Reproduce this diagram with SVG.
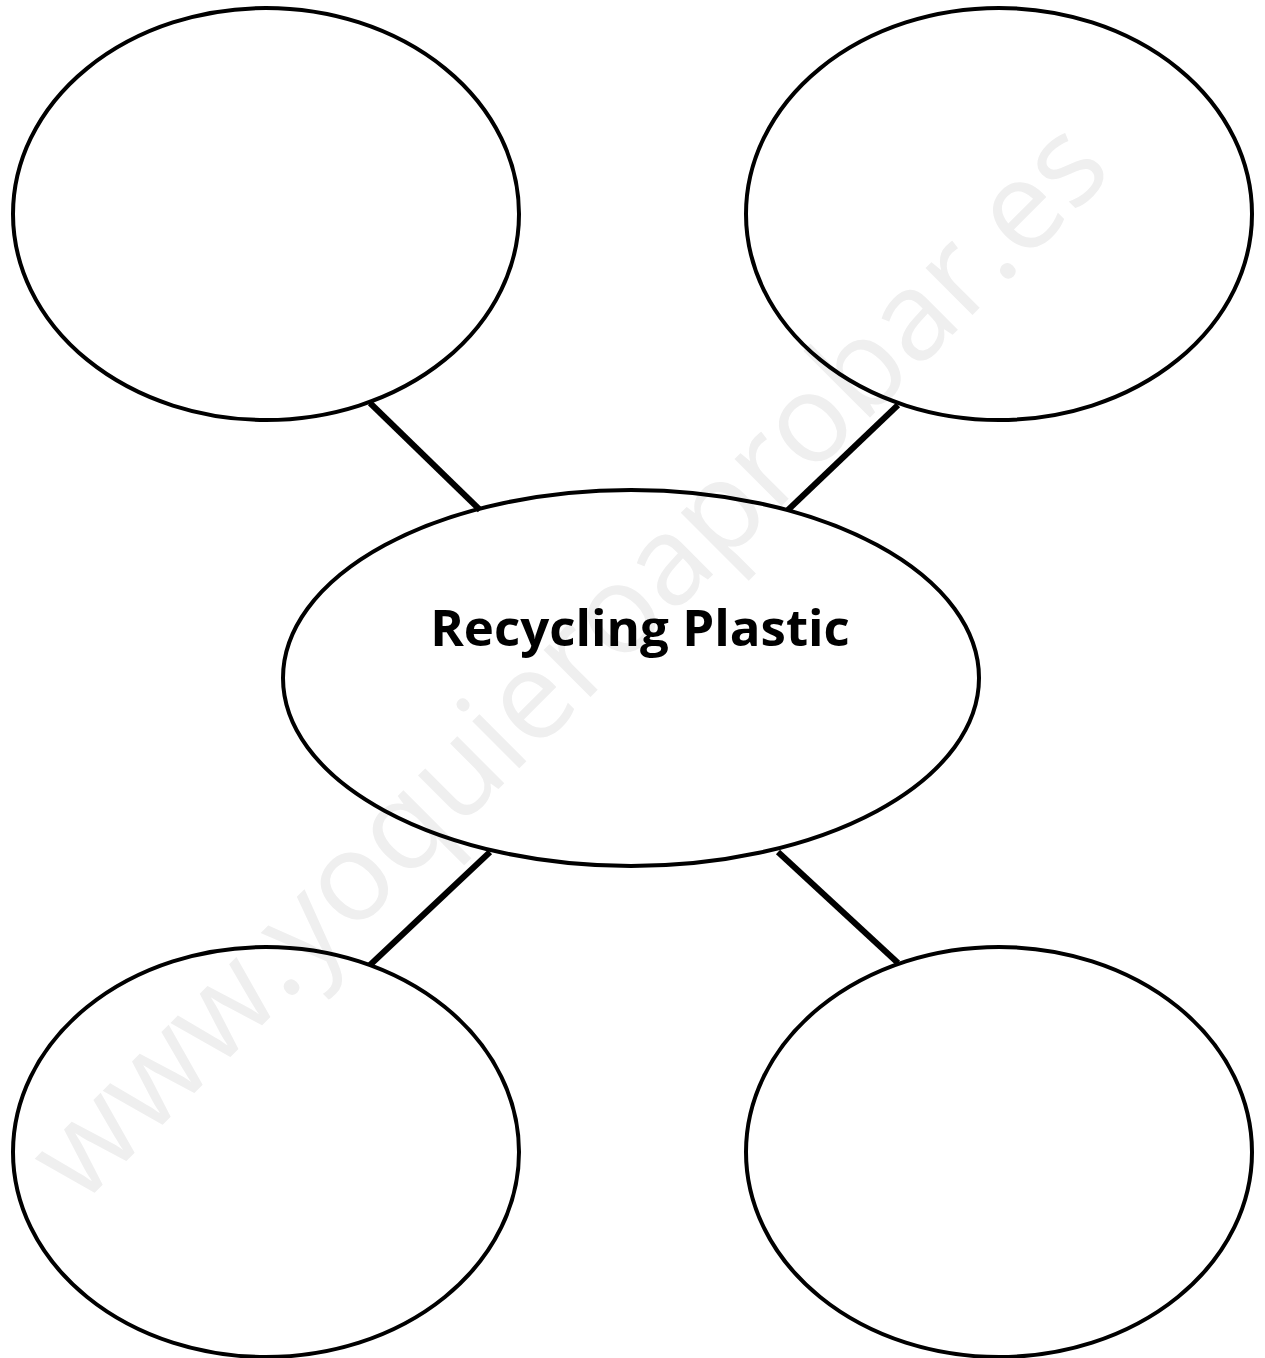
<svg xmlns="http://www.w3.org/2000/svg" width="1265" height="1358" viewBox="0 0 1265 1358">
<style>
.node{fill:none;stroke:#000;stroke-width:4}
.conn{stroke:#000;stroke-width:6;fill:none}
.label{font-family:"Open Sans","Noto Sans",sans-serif;font-weight:bold;font-size:51px;fill:#000}
.wm{font-family:"Open Sans","Noto Sans",sans-serif;font-size:124px;fill:#efefef}
</style>
<rect width="1265" height="1358" fill="#fff"/>
<text class="wm" x="573" y="700" text-anchor="middle" transform="rotate(-45 573 665)">www.yoquieroaprobar.es</text>
<g id="connectors">
<line class="conn" x1="370" y1="403" x2="480" y2="510"/>
<line class="conn" x1="898" y1="405" x2="788" y2="510"/>
<line class="conn" x1="490" y1="852" x2="370" y2="965"/>
<line class="conn" x1="778" y1="852" x2="898" y2="963"/>
</g>
<g id="node-top-left"><ellipse class="node" cx="266" cy="214" rx="253" ry="206"/></g>
<g id="node-top-right"><ellipse class="node" cx="999" cy="214" rx="253" ry="206"/></g>
<g id="node-bottom-left"><ellipse class="node" cx="266" cy="1152" rx="253" ry="205"/></g>
<g id="node-bottom-right"><ellipse class="node" cx="999" cy="1152" rx="253" ry="205"/></g>
<g id="node-center"><ellipse class="node" cx="631" cy="678" rx="348" ry="188"/>
<text class="label" x="640" y="646" text-anchor="middle">Recycling Plastic</text></g>
</svg>
